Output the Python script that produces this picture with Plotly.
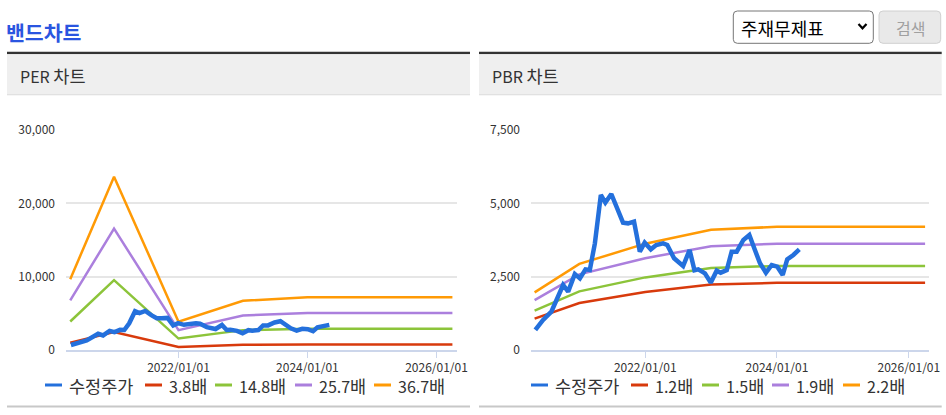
import re
import plotly.graph_objects as go

W, H = 946, 415
FONT = "Noto Sans CJK KR"

# ---------------- data ----------------
price_name = "수정주가"
price_dates = [
    "2020-05-02", "2020-06-14", "2020-07-30", "2020-10-03", "2020-10-31", "2020-12-07",
    "2021-01-04", "2021-02-04", "2021-02-28", "2021-03-28", "2021-04-30", "2021-05-25",
    "2021-06-27", "2021-07-31", "2021-08-31", "2021-09-28", "2021-10-31", "2021-12-02", "2021-12-29",
    "2022-02-01", "2022-03-03", "2022-04-10", "2022-05-03", "2022-06-10", "2022-07-30",
    "2022-09-04", "2022-10-01", "2022-10-22", "2022-11-28", "2022-12-30",
    "2023-02-01", "2023-02-23", "2023-03-29", "2023-04-25", "2023-05-23", "2023-06-29",
    "2023-08-01", "2023-09-01", "2023-09-29", "2023-11-01", "2023-12-03",
    "2024-01-03", "2024-02-02", "2024-02-27", "2024-04-01", "2024-05-04",
]
price_values = [
    682, 1023, 1307, 2216, 1989, 2591,
    2443, 2750, 2727, 3636, 5284, 5023, 5318, 4750, 4341, 4318, 4375, 3352, 3659,
    3432, 3580, 3636, 3580, 3125, 2864, 3409, 2720, 2750, 2614, 2295,
    2705, 2636, 2727, 3352, 3352, 3750, 3920, 3409, 2955, 2636, 2898,
    2841, 2557, 3091, 3239, 3432,
]

band_dates = ["2020-04-28", "2021-01-01", "2022-01-01", "2023-01-01", "2024-01-01", "2026-04-01"]

per_band_names = ["3.8배", "14.8배", "25.7배", "36.7배"]
per_band_38 = [1000, 2450, 400, 700, 745, 745]
per_band_148 = [3890, 9530, 1560, 2710, 2900, 2900]
per_band_257 = [6760, 16550, 2700, 4700, 5040, 5040]
per_band_367 = [9650, 23630, 3860, 6720, 7180, 7180]

pbr_band_names = ["1.2배", "1.5배", "1.9배", "2.2배"]
pbr_band_12 = [1070, 1600, 1980, 2235, 2290, 2290]
pbr_band_15 = [1340, 2000, 2475, 2795, 2865, 2865]
pbr_band_19 = [1700, 2580, 3130, 3540, 3625, 3625]
pbr_band_22 = [1965, 2935, 3625, 4100, 4200, 4200]

x_tick_values = ["2022-01-01", "2024-01-01", "2026-01-01"]
x_tick_labels = ["2022/01/01", "2024/01/01", "2026/01/01"]
per_y_ticks = [0, 10000, 20000, 30000]
pbr_y_ticks = [0, 2500, 5000, 7500]

page_title = "밴드차트"
per_title = "PER 차트"
pbr_title = "PBR 차트"
select_text = "주재무제표"
button_text = "검색"

# ---------------- styles ----------------
PRICE_COLOR = "#2470dc"
BAND_COLORS = ["#d83a0c", "#8cc43a", "#ab7fdd", "#ff9a05"]


def fx(p):
    return p / W


def fy(p):
    return 1 - p / H


def hangul_big(s, size):
    # Hangul glyphs of the reference font run wider than Noto's; enlarge only those runs
    return re.sub(r"([\uac00-\ud7a3]+)", lambda m: f'<span style="font-size:{size}px">{m.group(1)}</span>', s)


fig = go.Figure()

per_bands = [per_band_38, per_band_148, per_band_257, per_band_367]
pbr_bands = [pbr_band_12, pbr_band_15, pbr_band_19, pbr_band_22]

for vals, name, col in zip(per_bands, per_band_names, BAND_COLORS):
    fig.add_trace(go.Scatter(x=band_dates, y=vals, name=name, mode="lines",
                             line=dict(color=col, width=2.5), xaxis="x", yaxis="y"))
fig.add_trace(go.Scatter(x=price_dates, y=price_values, name=price_name, mode="lines",
                         line=dict(color=PRICE_COLOR, width=4.5), xaxis="x", yaxis="y"))

for vals, name, col in zip(pbr_bands, pbr_band_names, BAND_COLORS):
    fig.add_trace(go.Scatter(x=band_dates, y=vals, name=name, mode="lines",
                             line=dict(color=col, width=2.5), xaxis="x2", yaxis="y2"))
fig.add_trace(go.Scatter(x=price_dates, y=price_values, name=price_name, mode="lines",
                         line=dict(color=PRICE_COLOR, width=4.5), xaxis="x2", yaxis="y2"))

AX_LINE = "#ccd6eb"
GRID = "#e6e6e6"
tickfont = dict(family=FONT, size=12, color="#333333")

xcommon = dict(type="date", tickvals=x_tick_values, ticktext=x_tick_labels,
               ticks="outside", ticklen=6, tickcolor=AX_LINE, tickwidth=1,
               showline=True, linecolor=AX_LINE, linewidth=1.5,
               showgrid=False, zeroline=False, tickfont=tickfont,
               automargin=False, fixedrange=True)
ycommon = dict(showgrid=True, gridcolor=GRID, gridwidth=1.5, zeroline=False,
               showline=False, ticks="", tickformat=",", tickfont=tickfont,
               ticklabelstandoff=10, automargin=False, fixedrange=True)

fig.update_layout(
    width=W, height=H,
    margin=dict(l=0, r=0, t=0, b=0),
    paper_bgcolor="white", plot_bgcolor="white",
    showlegend=False,
    font=dict(family=FONT, color="#333333"),
    xaxis=dict(domain=[fx(66), fx(457)], range=["2020-04-04", "2026-04-27"], anchor="y", **xcommon),
    yaxis=dict(domain=[fy(350), fy(130)], range=[0, 30000], tickvals=per_y_ticks, anchor="x", **ycommon),
    xaxis2=dict(domain=[fx(531), fx(928.7)], range=["2020-04-08", "2026-04-21"], anchor="y2", **xcommon),
    yaxis2=dict(domain=[fy(350), fy(130)], range=[0, 7500], tickvals=pbr_y_ticks, anchor="x2", **ycommon),
)

shapes = []
annotations = []


def rect(x0, y0, x1, y1, fill, line=None, lw=0):
    shapes.append(dict(type="rect", xref="paper", yref="paper",
                       x0=fx(x0), x1=fx(x1), y0=fy(y1), y1=fy(y0),
                       fillcolor=fill, line=dict(color=line or fill, width=lw), layer="below"))


def rounded(x0, y0, x1, y1, r, fill, line, lw=1):
    pts = (f"M{fx(x0 + r)},{fy(y0)} L{fx(x1 - r)},{fy(y0)} Q{fx(x1)},{fy(y0)} {fx(x1)},{fy(y0 + r)} "
           f"L{fx(x1)},{fy(y1 - r)} Q{fx(x1)},{fy(y1)} {fx(x1 - r)},{fy(y1)} "
           f"L{fx(x0 + r)},{fy(y1)} Q{fx(x0)},{fy(y1)} {fx(x0)},{fy(y1 - r)} "
           f"L{fx(x0)},{fy(y0 + r)} Q{fx(x0)},{fy(y0)} {fx(x0 + r)},{fy(y0)} Z")
    shapes.append(dict(type="path", xref="paper", yref="paper", path=pts,
                       fillcolor=fill, line=dict(color=line, width=lw)))


def text(x, y, s, size, color="#333333", xanchor="left"):
    annotations.append(dict(xref="paper", yref="paper", x=fx(x), y=fy(y), text=s,
                            showarrow=False, xanchor=xanchor, yanchor="middle",
                            font=dict(family=FONT, size=size, color=color),
                            borderpad=0, borderwidth=0))


# page title
text(6, 32, f"<b>{page_title}</b>", 20.5, "#2a55e0")

# panels
for (px0, px1, title, tx) in [(7, 470, per_title, 21), (479, 941.7, pbr_title, 493)]:
    rect(px0, 51.7, px1, 54.3, "#333333")
    rect(px0, 54.3, px1, 95, "#efefef")
    rect(px0, 94.3, px1, 95.3, "#dcdcdc")
    rect(px0, 405.6, px1, 407.6, "#c8c8c8")
    text(tx - 1, 75.5, hangul_big(title, 17.5), 16, "#333333")

# select box and button
rounded(733.3, 11, 873.3, 43.3, 4, "white", "#767676", 1)
text(741, 27.5, select_text, 18, "#000000")
shapes.append(dict(type="path", xref="paper", yref="paper",
                   path=f"M{fx(858.5)},{fy(24)} L{fx(862.5)},{fy(28.3)} L{fx(866.5)},{fy(24)}",
                   line=dict(color="#000000", width=2.2)))
rounded(879, 11, 940.7, 43.3, 4, "#e9e9e9", "#d0d0d0", 1)
text(910, 27.5, button_text, 16, "#a0a0a0", xanchor="center")

# legends
legend_items_per = [price_name] + per_band_names
legend_items_pbr = [price_name] + pbr_band_names
legend_colors = [PRICE_COLOR] + BAND_COLORS
per_swatch_x = [45, 145, 215, 295, 374]
pbr_swatch_x = [531, 631, 702, 772, 843]
LEG_Y = 385
for items, xs in [(legend_items_per, per_swatch_x), (legend_items_pbr, pbr_swatch_x)]:
    for name, col, sx in zip(items, legend_colors, xs):
        shapes.append(dict(type="line", xref="paper", yref="paper",
                           x0=fx(sx), x1=fx(sx + 17), y0=fy(LEG_Y), y1=fy(LEG_Y),
                           line=dict(color=col, width=3)))
        text(sx + 23.5, LEG_Y + 0.5, hangul_big(name, 17.5), 16, "#333333")

fig.update_layout(shapes=shapes, annotations=annotations)

fig.write_html("out.html", include_plotlyjs=True, config={"displayModeBar": False},
               post_script="document.body.style.margin='0';")
